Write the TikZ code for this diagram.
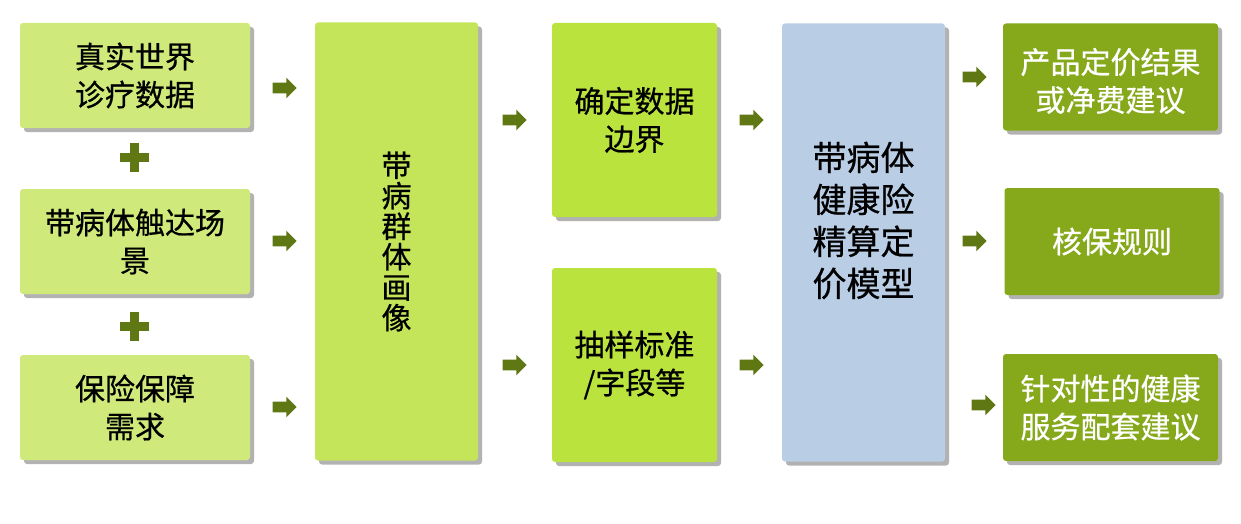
\documentclass[tikz,border=0pt]{standalone}
\usepackage{fontspec}
\usepackage{xcolor}
\usepackage{tikz}
\usetikzlibrary{shapes.arrows, shadows, positioning}
\newfontfamily\cjk[FakeBold=0.6]{Noto Sans CJK SC}
\definecolor{lgreen}{RGB}{207,233,122}
\definecolor{mgreen}{RGB}{196,229,90}
\definecolor{ygreen}{RGB}{187,227,62}
\definecolor{dgreen}{RGB}{134,168,27}
\definecolor{lblue}{RGB}{185,205,229}
\definecolor{olive}{RGB}{96,120,20}
\tikzset{
  block/.style={rectangle, draw=none, align=center, rounded corners=1.5pt,
    font=\cjk\fontsize{15pt}{19pt}\selectfont, inner sep=0pt,
    drop shadow={shadow xshift=2pt, shadow yshift=-2pt, fill=black, opacity=0.3}},
  leftblock/.style={block, fill=lgreen, minimum width=115pt, minimum height=52.5pt},
  tallblock/.style={block, minimum width=81.5pt, minimum height=219pt},
  midblock/.style={block, fill=ygreen, minimum width=82.5pt, minimum height=97pt},
  resblock/.style={block, fill=dgreen, text=white, minimum width=107.5pt, minimum height=53.5pt},
  blockarrow/.style={single arrow, fill=olive, draw=none, inner sep=2.5pt,
    minimum height=12pt, minimum width=10pt, single arrow head extend=2.5pt}
}

\begin{document}
\begin{tikzpicture}[x=0.5pt, y=-0.5pt]
  \useasboundingbox (0,0) rectangle (1241,524);

  % Nodes
  \node[leftblock] (data) at (135,75.5) {真实世界\\诊疗数据};
  \node[leftblock] (scene) at (135,241.5) {带病体触达场\\景};
  \node[leftblock] (need) at (135,407.5) {保险保障\\需求};

  \node[tallblock, fill=mgreen, font=\cjk\fontsize{15pt}{15.25pt}\selectfont] (portrait) at (396.5,241.5)
    {带\\病\\群\\体\\画\\像};

  \node[midblock] (bound) at (634.5,120) {确定数据\\边界};
  \node[midblock] (sample) at (634.5,365) {抽样标准\\/字段等};

  \node[tallblock, fill=lblue] (model) at (863.5,242.5) {};
  \node[align=center, inner sep=0pt, font=\cjk\fontsize{17pt}{21pt}\selectfont] (modeltext)
    at ([yshift=11pt]model.center) {带病体\\健康险\\精算定\\价模型};

  \node[resblock] (price) at (1110.5,77) {};
  \node[align=center, inner sep=0pt, text=white, font=\cjk\fontsize{15pt}{19pt}\selectfont] (pricetext)
    at ([yshift=-2pt]price.center) {产品定价结果\\或净费建议};
  \node[resblock] (rule) at (1112,241.5) {核保规则};
  \node[resblock] (service) at (1110.5,407.5) {针对性的健康\\服务配套建议};

  % Plus signs
  \foreach \py in {157.5,326} {
    \fill[olive] (120,\py-4.5) rectangle (149,\py+4.5);
    \fill[olive] (130,\py-14.5) rectangle (139,\py+14.5);
  }

  % Arrows
  \node[blockarrow] (a1) at (282,88) {};
  \node[blockarrow] (a2) at (282,241) {};
  \node[blockarrow] (a3) at (282,407) {};
  \node[blockarrow] (a4) at (512,120) {};
  \node[blockarrow] (a5) at (512,365) {};
  \node[blockarrow] (a6) at (749,120) {};
  \node[blockarrow] (a7) at (749,365) {};
  \node[blockarrow] (a8) at (972,77) {};
  \node[blockarrow] (a9) at (972,241) {};
  \node[blockarrow] (a10) at (981,405) {};

\end{tikzpicture}
\end{document}
